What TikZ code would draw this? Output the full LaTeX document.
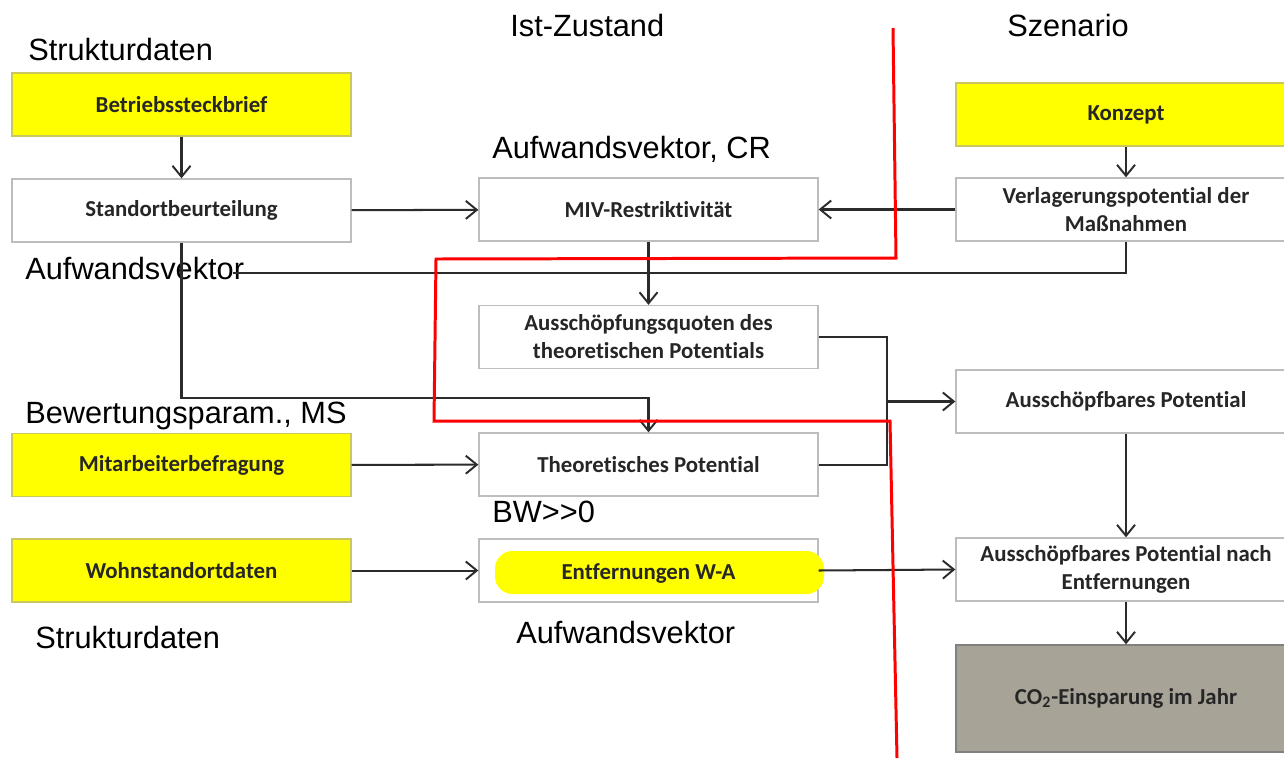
\documentclass[tikz,border=0pt]{standalone}
\usepackage{fontspec}
\setmainfont{Liberation Sans}
\newfontfamily\boxfont[Ligatures=NoCommon]{Carlito}
\usetikzlibrary{arrows.meta}

\definecolor{gelb}{HTML}{FFFF00}
\definecolor{gelbrand}{HTML}{C9C75E}
\definecolor{grau}{HTML}{A7A397}
\definecolor{rahmen}{HTML}{BDBDBD}
\definecolor{strich}{HTML}{2B2B2B}

\tikzset{
  kastenschrift/.style={font=\boxfont\bfseries\fontsize{13}{16}\selectfont, text=black!85},
  kasten/.style={draw=rahmen, line width=0.8pt, fill=white, minimum width=6.78cm,
    minimum height=1.26cm, inner sep=0pt, align=center, kastenschrift},
  gelbkasten/.style={kasten, draw=gelbrand, fill=gelb},
  grauskasten/.style={kasten, draw=black!50, fill=grau, minimum height=2.14cm},
  etikett/.style={anchor=base west, inner sep=0pt, font=\fontsize{17.5}{20}\selectfont},
  linie/.style={draw=strich, line width=1.15pt},
  pfeil/.style={linie, -{Straight Barb[length=2.2mm,width=3.6mm,line width=1.1pt]}},
  rot/.style={draw=red, line width=1.7pt}
}

\begin{document}
\begin{tikzpicture}[x=0.02cm, y=-0.02cm]
  \clip (0,0) rectangle (1284,758);
  \fill[white] (0,0) rectangle (1284,758);

  % Spalte links
  \node[gelbkasten] (betrieb) at (181.5,104.5) {Betriebssteckbrief};
  \node[kasten] (standort) at (181.5,210.5) {Standortbeurteilung};
  \node[gelbkasten] (befragung) at (181.5,465) {Mitarbeiterbefragung};
  \node[gelbkasten] (wohn) at (181.5,570.5) {Wohnstandortdaten};

  % Spalte Mitte
  \node[kasten] (miv) at (648.5,209.5) {MIV-Restriktivit\"at};
  \node[kasten] (quoten) at (648.5,337) {Aussch\"opfungsquoten des\\theoretischen Potentials};
  \node[kasten] (theor) at (648.5,464.5) {Theoretisches Potential};
  \node[kasten] (entf) at (648.5,570.5) {};
  % Markierung Entfernungen
  \fill[gelb, rounded corners=10pt] (495,551) rectangle (824,594);
  \node[kastenschrift, inner sep=0pt] (entftext) at (648.5,573) {Entfernungen W-A};

  % Spalte rechts
  \node[gelbkasten, minimum width=6.8cm] (konzept) at (1126,114.5) {Konzept};
  \node[kasten, minimum width=6.8cm] (verlag) at (1126,209.5) {Verlagerungspotential der\\Ma\ss nahmen};
  \node[kasten, minimum width=6.8cm] (ausschoepf) at (1126,401.5) {Aussch\"opfbares Potential};
  \node[kasten, minimum width=6.8cm] (nachentf) at (1126,569.5) {Aussch\"opfbares Potential nach\\Entfernungen};
  \node[grauskasten, minimum width=6.8cm] (co2) at (1126,698.5) {CO\textsubscript{2}-Einsparung im Jahr};

  % Beschriftungen
  \node[etikett] (l1) at (28,60) {Strukturdaten};
  \node[etikett] (l2) at (510,36) {Ist-Zustand};
  \node[etikett] (l3) at (1007,36) {Szenario};
  \node[etikett] (l4) at (492,158) {Aufwandsvektor, CR};
  \node[etikett] (l5) at (25,279) {Aufwandsvektor};
  \node[etikett] (l6) at (25,423) {Bewertungsparam., MS};
  \node[etikett] (l7) at (492,522) {BW>{}>0};
  \node[etikett] (l8) at (35,648) {Strukturdaten};
  \node[etikett] (l9) at (516,643) {Aufwandsvektor};

  % Hilfspunkte
  \coordinate (linksende) at (233,273);
  \coordinate (knick) at (181.5,398);
  \coordinate (sammel) at (887,401.5);

  % Verbindungen
  \draw[pfeil] (betrieb) -- (standort);
  \draw[pfeil] (standort) -- (miv);
  \draw[pfeil] (verlag) -- (miv);
  \draw[pfeil] (konzept) -- (verlag);
  \draw[pfeil] (miv) -- (quoten);
  \draw[linie] (verlag.south) |- (linksende);
  \draw[pfeil] (standort.south) -- (knick) -| (theor.north);
  \draw[pfeil] (befragung) -- (theor);
  \draw[pfeil] (wohn) -- (entf);
  \draw[linie] (quoten.east) -| (sammel);
  \draw[linie] (theor.east) -| (sammel);
  \draw[pfeil] (sammel) -- (ausschoepf.west);
  \draw[pfeil] (ausschoepf) -- (nachentf);
  \draw[pfeil] (entf.east) -- (nachentf.west);
  \draw[pfeil] (nachentf) -- (co2);

  % Trennlinie Ist-Zustand / Szenario
  \draw[rot] (893,28) -- (896,258) -- (436,259) -- (434,421) -- (890,421) -- (897,758);
\end{tikzpicture}
\end{document}
